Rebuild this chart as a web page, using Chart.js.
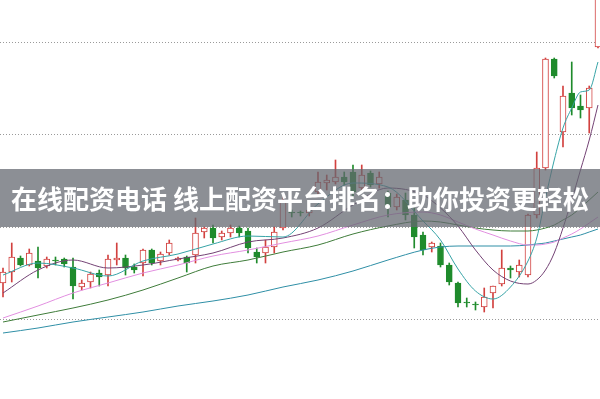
<!DOCTYPE html>
<html>
<head>
<meta charset="utf-8">
<script src="https://cdn.jsdelivr.net/npm/chart.js@4.4.1/dist/chart.umd.min.js"></script>
<style>
  html, body { margin: 0; padding: 0; background: #fff; }
  #wrap { position: relative; width: 600px; height: 399px; overflow: hidden; }
  #banner {
    position: absolute; left: 0; top: 169px; width: 600px; height: 58px;
    background: rgba(100, 104, 112, 0.74);
    color: #fff; font-family: "Noto Sans CJK SC", "Noto Sans", sans-serif;
    font-weight: 700; font-size: 26px; line-height: 58px; text-align: center;
    white-space: nowrap;
  }
</style>
</head>
<body>
<div id="wrap">
  <canvas id="kline" width="600" height="399"></canvas>
  <div id="banner">在线配资电话 线上配资平台排名：助你投资更轻松</div>
</div>
<script>
// ---------- candles (price units) ----------
const opens  = [117,128,142,135,139,134,140,141,133,113,118,127,125,140,142,133,137,150,139,147,140,143,145,168,172,163,167,172,169,148,147,153,172,188,188,187,208,217,218,223,228,212,227,216,207,193,200,185,165,153,154,135,117,98,96,93,107,116,132,128,125,185,232,341,268,307,294,292,353];
const highs  = [132,157,144,151,153,143,143,142,142,120,128,130,145,157,145,136,151,151,148,160,143,144,182,173,175,169,175,174,172,152,160,173,203,190,189,193,228,225,240,228,235,235,229,228,209,206,207,192,168,158,157,137,118,102,98,112,114,150,134,140,186,248,342,342,314,338,305,314,430];
const lows   = [103,118,134,134,122,132,135,133,101,110,112,114,114,135,125,127,124,135,135,145,139,128,137,162,157,160,163,163,147,137,137,147,170,183,184,184,203,210,216,215,203,208,213,212,183,190,180,152,145,148,133,115,93,93,90,88,92,114,122,123,123,182,230,322,253,285,282,267,352];
const closes = [128,143,135,147,132,141,139,136,114,117,126,123,141,142,132,130,150,137,146,157,142,137,167,172,162,167,172,167,152,143,153,168,200,187,187,190,218,220,223,218,208,225,215,223,193,203,185,163,150,157,135,118,97,97,95,103,114,132,130,135,185,232,341,324,304,292,290,312,425];

// ---------- moving averages, sampled at these candle indexes ----------
const maIndex = [0,4,8,12,16,20,24,28,32,36,40,44,48,50,52,54,56,58,60,61,62,63,64,65,66,67,68];
const ma5  = [125,137,132,124,139,146,156,164,163,196,217,213,179,160,131,109,101,113,139,162,202,240,272,292,308,310,338];
const ma10 = [107,130,140,132,135,141,147,158,162,172,195,212,205,192,174,150,130,119,116,120,130,147,172,200,230,260,295];
const ma20 = [82,94,107,117,127,135,144,150,157,164,175,185,188,185,178,171,165,159,155,155,156,158,162,166,171,177,183];
const ma30 = [78,85,92,100,110,122,134,140,148,155,166,174,179,178,175,172,170,169,169,170,172,175,180,185,192,200,208];
const ma60 = [67,72,78,83,88,94,99,105,113,120,129,140,150,153,154,154,154,154,155,156,157,159,161,163,165,168,171];

// dotted horizontal guides
const gridValues = [81, 173, 266, 358];

const UP = '#d2413f';
const DOWN = '#1f8b2c';

const isUp = closes.map((c, i) => c >= opens[i]);
const candleColor = isUp.map(u => u ? UP : DOWN);

const bodies = closes.map((c, i) => ({ x: i, y: [opens[i], c] }));
const wicks = highs.map((h, i) => ({ x: i, y: [lows[i], h] }));
const toPoints = vals => vals.map((v, k) => ({ x: maIndex[k], y: v }));

function maLine(label, vals, color) {
    return {
        type: 'line',
        label,
        data: toPoints(vals),
        borderColor: color,
        borderWidth: 1,
        pointRadius: 0,
        cubicInterpolationMode: 'monotone',
        order: 0,
    };
}

new Chart(document.getElementById('kline'), {
    type: 'bar',
    data: {
        datasets: [
            maLine('MA5', ma5, '#36a3a6'),
            maLine('MA10', ma10, '#734274'),
            maLine('MA20', ma20, '#e28fe0'),
            maLine('MA30', ma30, '#3f7c3a'),
            maLine('MA60', ma60, '#2f8fa6'),
            {
                label: 'body',
                data: bodies,
                backgroundColor: isUp.map(u => u ? '#ffffff' : DOWN),
                borderColor: candleColor,
                borderWidth: 1,
                borderSkipped: false,
                barThickness: 6,
                grouped: false,
                order: 1,
            },
            {
                label: 'wick',
                data: wicks,
                backgroundColor: candleColor,
                borderWidth: 0,
                barThickness: 1,
                grouped: false,
                order: 2,
            },
        ]
    },
    options: {
        responsive: false,
        animation: false,
        layout: { padding: 0 },
        plugins: { legend: { display: false }, tooltip: { enabled: false } },
        scales: {
            x: { type: 'linear', min: -0.343, max: 68.23, offset: false, display: false },
            y: {
                min: 1,
                max: 400,
                afterBuildTicks: (axis) => { axis.ticks = gridValues.map(v => ({ value: v })); },
                ticks: { display: false },
                border: { display: false, dash: [1, 2] },
                grid: { color: '#9a9a9a', drawTicks: false, lineWidth: 1 },
            }
        }
    }
});
</script>
</body>
</html>
